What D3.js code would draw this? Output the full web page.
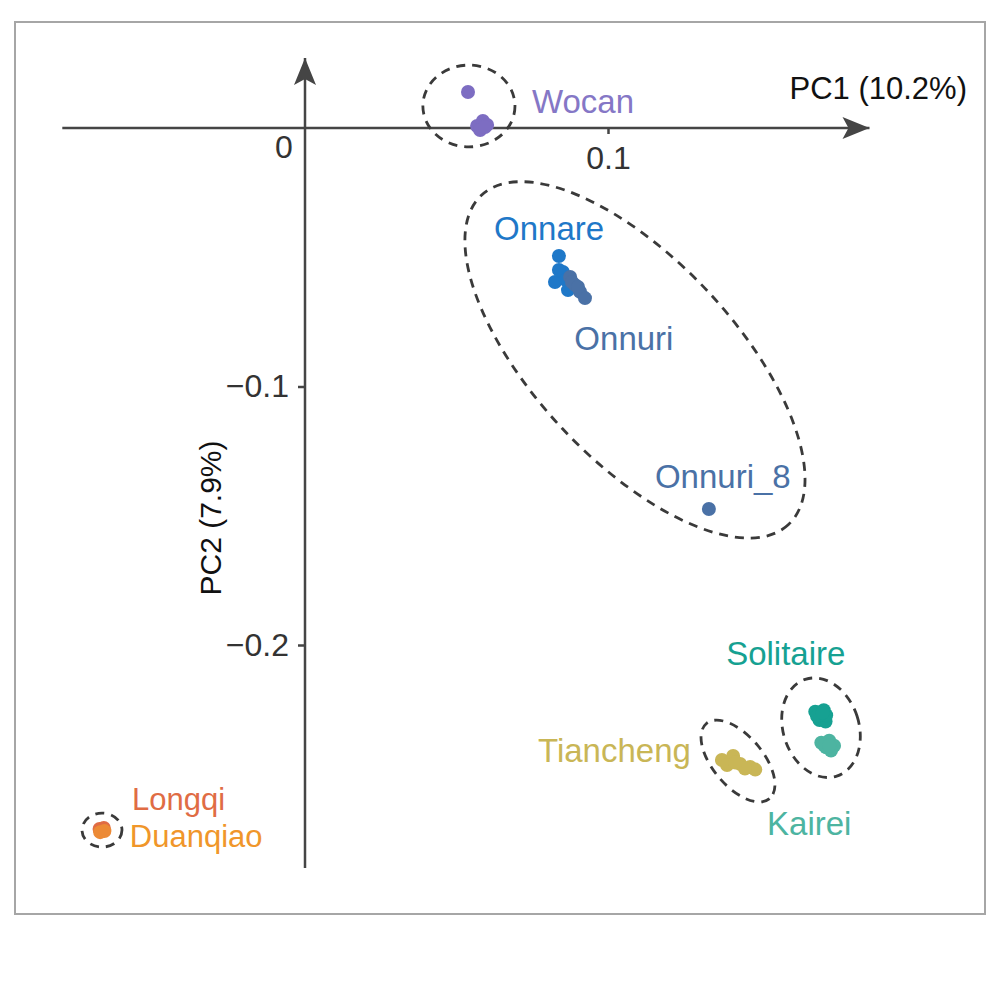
<!DOCTYPE html>
<html>
<head>
<meta charset="utf-8">
<script src="https://cdn.jsdelivr.net/npm/d3@7"></script>
<style>
  body { margin: 0; background: #fff; }
  text { font-family: "Liberation Sans", Arial, sans-serif; }
</style>
</head>
<body>
<svg id="chart" width="1000" height="987"></svg>
<script>
// populations and their PCA scores (PC1, PC2)
const groups = ['Wocan', 'Onnare', 'Onnuri', 'Solitaire', 'Kairei', 'Tiancheng', 'Longqi', 'Duanqiao'];
const groupColors = ['#7d6dc2', '#1f78c8', '#4a71a6', '#16a192', '#4db4a1', '#c9b656', '#e06c44', '#ec8a36'];

const wocan = [[0.0538, 0.0139], [0.0568, 0.0008], [0.0587, 0.0027], [0.0601, 0.0012], [0.0578, -0.0008], [0.0594, 0.0004]];
const onnare = [[0.0838, -0.0495], [0.0825, -0.0596], [0.0851, -0.0557], [0.0868, -0.0627], [0.0838, -0.0549], [0.0861, -0.0588]];
const onnuri = [[0.0875, -0.0576], [0.0891, -0.0607], [0.0908, -0.0634], [0.0924, -0.0658], [0.0881, -0.0596], [0.0901, -0.0615], [0.1333, -0.1474]];
const solitaire = [[0.1684, -0.2258], [0.1712, -0.2252], [0.1698, -0.2290], [0.1718, -0.2296], [0.1700, -0.2272], [0.1720, -0.2272], [0.1690, -0.2275], [0.1708, -0.2262]];
const kairei = [[0.1704, -0.2378], [0.1730, -0.2370], [0.1746, -0.2390], [0.1720, -0.2396], [0.1736, -0.2408], [0.1714, -0.2388], [0.1730, -0.2390]];
const tiancheng = [[0.1376, -0.2445], [0.1413, -0.2429], [0.1436, -0.2460], [0.1469, -0.2472], [0.1486, -0.2482], [0.1452, -0.2478], [0.1393, -0.2464], [0.1420, -0.2455]];
const longqi = [[-0.0678, -0.2712], [-0.0664, -0.2708], [-0.0670, -0.2716]];
const duanqiao = [[-0.0662, -0.2720], [-0.0676, -0.2724]];
const seriesPoints = [wocan, onnare, onnuri, solitaire, kairei, tiancheng, longqi, duanqiao];

// dashed cluster ellipses: centre, semi-axes (PC1 units), rotation
const ellipseCentres = [[0.0541, 0.0085], [0.1089, -0.0897], [0.1703, -0.2320], [0.1429, -0.2449], [-0.0670, -0.2716]];
const ellipseAxes = [[0.0152, 0.0135], [0.0743, 0.0330], [0.0125, 0.0168], [0.0162, 0.0083], [0.0066, 0.0056]];
const ellipseAngles = [0, 47, -18, 50, 0];

// label anchors (start of text, baseline)
const labelText = ['Wocan', 'Onnare', 'Onnuri', 'Onnuri_8', 'Solitaire', 'Tiancheng', 'Kairei', 'Longqi', 'Duanqiao'];
const labelPos = [[0.0749, 0.0058], [0.0624, -0.0433], [0.0889, -0.0859], [0.1155, -0.1393], [0.1390, -0.2077], [0.0769, -0.2453], [0.1525, -0.2735], [-0.0571, -0.2638], [-0.0578, -0.2780]];
const labelColors = ['#8577c6', '#1f78c8', '#4a71a6', '#4a71a6', '#16a192', '#c9b656', '#4db4a1', '#e06c44', '#f0962a'];

const xTicks = [0.1];
const yTicks = [-0.1, -0.2];
const xExtent = [-0.0801, 0.1863];
const yExtent = [-0.2863, 0.0271];

const svg = d3.select('#chart');
const x = d3.scaleLinear().domain([0, 0.1]).range([305, 608]);
const y = d3.scaleLinear().domain([0, -0.2]).range([128, 645]);
const axisColor = '#454545';

// frame
svg.append('rect')
    .attr('x', 15).attr('y', 22)
    .attr('width', 970).attr('height', 892)
    .attr('fill', 'none')
    .attr('stroke', '#a6a6a6')
    .attr('stroke-width', 2);

svg.append('defs').append('marker')
    .attr('id', 'arrow')
    .attr('viewBox', '0 -12 28 24')
    .attr('refX', 27).attr('refY', 0)
    .attr('markerWidth', 28).attr('markerHeight', 24)
    .attr('markerUnits', 'userSpaceOnUse')
    .attr('orient', 'auto')
  .append('path')
    .attr('d', 'M0,-11L27,0L0,11L6,0Z')
    .attr('fill', axisColor);

// axes through the origin
svg.append('line')
    .attr('x1', x(xExtent[0])).attr('x2', x(xExtent[1]))
    .attr('y1', y(0)).attr('y2', y(0))
    .attr('stroke', axisColor).attr('stroke-width', 2.5)
    .attr('marker-end', 'url(#arrow)');

svg.append('line')
    .attr('x1', x(0)).attr('x2', x(0))
    .attr('y1', y(yExtent[0])).attr('y2', y(yExtent[1]))
    .attr('stroke', axisColor).attr('stroke-width', 2.5)
    .attr('marker-end', 'url(#arrow)');

const xAxis = svg.append('g')
    .attr('transform', `translate(0,${y(0)})`)
    .call(d3.axisBottom(x).tickValues(xTicks).tickSize(6).tickPadding(12).tickFormat(d3.format('.1f')));

const yAxis = svg.append('g')
    .attr('transform', `translate(${x(0)},0)`)
    .call(d3.axisLeft(y).tickValues(yTicks).tickSize(7).tickPadding(9)
        .tickFormat(d => '\u2212' + d3.format('.1f')(-d)));

[xAxis, yAxis].forEach(g => {
  g.select('.domain').remove();
  g.selectAll('.tick line').attr('stroke', axisColor).attr('stroke-width', 2.5);
  g.selectAll('.tick text')
      .attr('fill', '#333')
      .style('font-size', '32px')
      .style('font-family', '"Liberation Sans", Arial, sans-serif');
});

svg.append('text')
    .attr('x', x(0) - 21).attr('y', 158)
    .attr('text-anchor', 'middle')
    .attr('fill', '#333')
    .style('font-size', '32px')
    .text('0');

svg.append('text')
    .attr('x', 967).attr('y', 99)
    .attr('text-anchor', 'end')
    .attr('fill', '#111')
    .style('font-size', '31px')
    .text('PC1 (10.2%)');

svg.append('text')
    .attr('transform', 'translate(221,518) rotate(-90)')
    .attr('text-anchor', 'middle')
    .attr('fill', '#111')
    .style('font-size', '30px')
    .text('PC2 (7.9%)');

// ellipses
const k = x(1) - x(0);
svg.append('g').selectAll('ellipse')
  .data(ellipseCentres)
  .join('ellipse')
    .attr('transform', (d, i) => `translate(${x(d[0])},${y(d[1])}) rotate(${ellipseAngles[i]})`)
    .attr('rx', (d, i) => ellipseAxes[i][0] * k)
    .attr('ry', (d, i) => ellipseAxes[i][1] * k)
    .attr('fill', 'none')
    .attr('stroke', '#3a3a3a')
    .attr('stroke-width', 2.8)
    .attr('stroke-dasharray', '9,7');

// points
seriesPoints.forEach((pts, i) => {
  svg.append('g')
      .attr('class', 'pts-' + groups[i])
    .selectAll('circle')
    .data(pts)
    .join('circle')
      .attr('cx', d => x(d[0]))
      .attr('cy', d => y(d[1]))
      .attr('r', 7)
      .attr('fill', groupColors[i]);
});

// labels
svg.append('g').selectAll('text')
  .data(labelText)
  .join('text')
    .attr('x', (d, i) => x(labelPos[i][0]))
    .attr('y', (d, i) => y(labelPos[i][1]))
    .attr('fill', (d, i) => labelColors[i])
    .style('font-size', (d, i) => i >= 7 ? '31px' : '33px')
    .text(d => d);
</script>
</body>
</html>
